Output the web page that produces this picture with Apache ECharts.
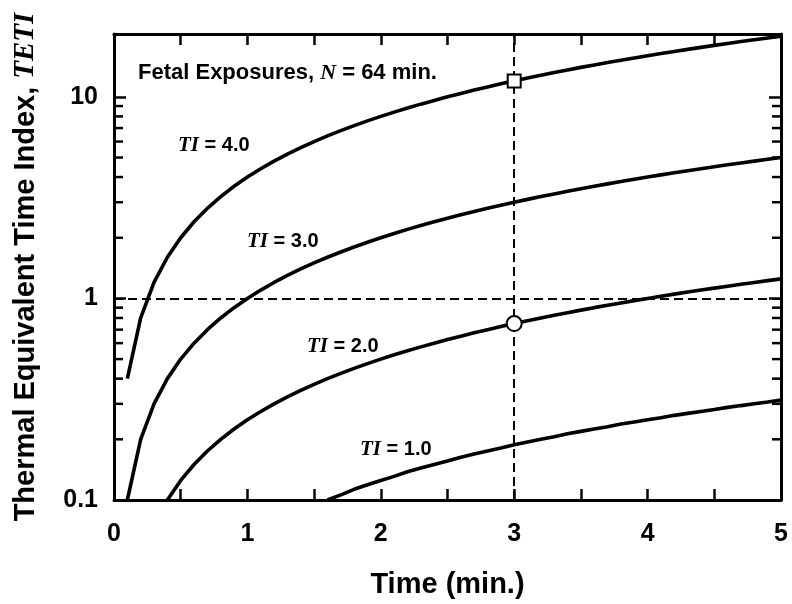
<!DOCTYPE html>
<html>
<head>
<meta charset="utf-8">
<script src="https://cdn.jsdelivr.net/npm/echarts@6/dist/echarts.min.js"></script>
<style>html,body{margin:0;padding:0;background:#fff}#c{width:792px;height:604px}</style>
</head>
<body>
<div id="c"></div>
<script>
// ---- data ----
const times = [0.1,0.2,0.3,0.4,0.5,0.6,0.7,0.8,0.9,1.0,1.1,1.2,1.3,1.4,1.5,1.6,1.7,1.8,1.9,2.0,2.1,2.2,2.3,2.4,2.5,2.6,2.7,2.8,2.9,3.0,3.1,3.2,3.3,3.4,3.5,3.6,3.7,3.8,3.9,4.0,4.1,4.2,4.3,4.4,4.5,4.6,4.7,4.8,4.9,5.0];
const teti_TI4 = [0.4,0.8,1.2,1.6,2.0,2.4,2.8,3.2,3.6,4.0,4.4,4.8,5.2,5.6,6.0,6.4,6.8,7.2,7.6,8.0,8.4,8.8,9.2,9.6,10.0,10.4,10.8,11.2,11.6,12.0,12.4,12.8,13.2,13.6,14.0,14.4,14.8,15.2,15.6,16.0,16.4,16.8,17.2,17.6,18.0,18.4,18.8,19.2,19.6,20.0];
const teti_TI3 = [0.1,0.2,0.3,0.4,0.5,0.6,0.7,0.8,0.9,1.0,1.1,1.2,1.3,1.4,1.5,1.6,1.7,1.8,1.9,2.0,2.1,2.2,2.3,2.4,2.5,2.6,2.7,2.8,2.9,3.0,3.1,3.2,3.3,3.4,3.5,3.6,3.7,3.8,3.9,4.0,4.1,4.2,4.3,4.4,4.5,4.6,4.7,4.8,4.9,5.0];
const teti_TI2 = [null,null,null,0.1,0.125,0.15,0.175,0.2,0.225,0.25,0.275,0.3,0.325,0.35,0.375,0.4,0.425,0.45,0.475,0.5,0.525,0.55,0.575,0.6,0.625,0.65,0.675,0.7,0.725,0.75,0.775,0.8,0.825,0.85,0.875,0.9,0.925,0.95,0.975,1.0,1.025,1.05,1.075,1.1,1.125,1.15,1.175,1.2,1.225,1.25];
const teti_TI1 = [null,null,null,null,null,null,null,null,null,null,null,null,null,null,null,0.1,0.106,0.113,0.119,0.125,0.131,0.138,0.144,0.15,0.156,0.163,0.169,0.175,0.181,0.188,0.194,0.2,0.206,0.213,0.219,0.225,0.231,0.238,0.244,0.25,0.256,0.263,0.269,0.275,0.281,0.288,0.294,0.3,0.306,0.313];
const squarePoint = [[3, 12]];
const circlePoint = [[3, 0.75]];
const refY = 1;
const refX = 3;
const minorTickValues = [0.2,0.3,0.4,0.5,0.6,0.7,0.8,0.9,2,3,4,5,6,7,8,9];
const curveLabels = ['4.0','3.0','2.0','1.0'];

const SANS = "'Liberation Sans', Arial, sans-serif";
const SERIF = "'Liberation Serif', 'Times New Roman', serif";
const pair = arr => times.map((t, i) => [t, arr[i]]);
const Y_MIN = 0.1, Y_MAX = 20.5;

const curve = (name, vals) => ({
  name, type: 'line', data: pair(vals), showSymbol: false, smooth: false,
  xAxisIndex: 0, yAxisIndex: 0, connectNulls: false,
  lineStyle: { color: '#000', width: 3.6 }, silent: true, z: 3
});

const chart = echarts.init(document.getElementById('c'), null, { renderer: 'canvas' });
const axisBase = () => ({
  axisLine: { show: true, onZero: false, lineStyle: { color: '#000', width: 3 } },
  splitLine: { show: false }
});
const richI = { i: { fontFamily: SERIF, fontStyle: 'italic', fontWeight: 'bold', fontSize: 22, color: '#000' } };
const tiRich = { i: Object.assign({}, richI.i, { fontSize: 21 }) };
const tiText = (v) => '{i|TI} = ' + v;

chart.setOption({
  animation: false,
  backgroundColor: '#fff',
  grid: { left: 114, right: 11, top: 34, bottom: 102 },
  xAxis: [
    Object.assign(axisBase(), {
      type: 'value', min: 0, max: 5, interval: 0.5, position: 'bottom',
      name: 'Time (min.)', nameLocation: 'middle', nameGap: 70,
      nameTextStyle: { fontFamily: SANS, fontWeight: 'bold', fontSize: 29, color: '#000' },
      axisTick: { show: true, inside: true, length: 11, lineStyle: { color: '#000', width: 2.5 } },
      axisLabel: { margin: 22, fontFamily: SANS, fontWeight: 'bold', fontSize: 25, color: '#000',
        formatter: v => (Math.abs(v - Math.round(v)) < 1e-9 ? String(Math.round(v)) : '') }
    }),
    Object.assign(axisBase(), {
      type: 'value', min: 0, max: 5, interval: 0.5, position: 'top',
      axisTick: { show: true, inside: true, length: 11, lineStyle: { color: '#000', width: 2.5 } },
      axisLabel: { show: false }
    })
  ],
  yAxis: [
    Object.assign(axisBase(), {
      type: 'log', logBase: 10, min: Y_MIN, max: Y_MAX, position: 'left',
      name: 'Thermal Equivalent Time Index, {i|TETI}', nameLocation: 'middle', nameGap: 74, nameRotate: 90,
      nameTextStyle: { fontFamily: SANS, fontWeight: 'bold', fontSize: 29, color: '#000',
        rich: { i: { fontFamily: SERIF, fontStyle: 'italic', fontWeight: 'bold', fontSize: 29, color: '#000' } } },
      axisTick: { show: true, inside: true, length: 12, lineStyle: { color: '#000', width: 2.5 } },
      axisLabel: { margin: 16, fontFamily: SANS, fontWeight: 'bold', fontSize: 25, color: '#000',
        showMaxLabel: false,
        formatter: v => { const l = Math.log10(v); return Math.abs(l - Math.round(l)) < 1e-6 ? String(+v.toPrecision(6)) : ''; } }
    }),
    Object.assign(axisBase(), {
      type: 'log', logBase: 10, min: Y_MIN, max: Y_MAX, position: 'right',
      axisTick: { show: true, inside: true, length: 12, lineStyle: { color: '#000', width: 2.5 } },
      axisLabel: { show: false }
    })
  ],
  series: [
    curve('TI=4.0', teti_TI4),
    curve('TI=3.0', teti_TI3),
    curve('TI=2.0', teti_TI2),
    curve('TI=1.0', teti_TI1),
    {
      type: 'line', data: [], xAxisIndex: 0, yAxisIndex: 0, silent: true,
      markLine: {
        silent: true, symbol: ['none', 'none'], animation: false, label: { show: false },
        lineStyle: { color: '#000', width: 2, type: [9, 5], opacity: 1 },
        emphasis: { disabled: true },
        data: [{ yAxis: refY }, { xAxis: refX }]
      }
    },
    {
      type: 'scatter', data: squarePoint, symbol: 'rect', symbolSize: 13, z: 5,
      itemStyle: { color: '#fff', borderColor: '#000', borderWidth: 2, opacity: 1 }, silent: true
    },
    {
      type: 'scatter', data: circlePoint, symbol: 'circle', symbolSize: 15, z: 5,
      itemStyle: { color: '#fff', borderColor: '#000', borderWidth: 2, opacity: 1 }, silent: true
    },
    {
      type: 'custom', xAxisIndex: 0, yAxisIndex: 0, silent: true, z: 4,
      data: minorTickValues.map(v => [0, v]),
      renderItem: (params, api) => {
        const v = api.value(1);
        const pL = api.coord([0, v]);
        const pR = api.coord([5, v]);
        return {
          type: 'group', children: [
            { type: 'line', shape: { x1: pL[0], y1: pL[1], x2: pL[0] + 9, y2: pL[1] }, style: { stroke: '#000', lineWidth: 2.5 } },
            { type: 'line', shape: { x1: pR[0], y1: pR[1], x2: pR[0] - 9, y2: pR[1] }, style: { stroke: '#000', lineWidth: 2.5 } }
          ]
        };
      }
    }
  ],
  graphic: [
    { type: 'text', left: 138, top: 62, style: { text: 'Fetal Exposures, {i|N} = 64 min.', fontFamily: SANS, fontWeight: 'bold', fontSize: 22, fill: '#000', rich: richI } },
    { type: 'text', left: 178, top: 135, style: { text: tiText(curveLabels[0]), fontFamily: SANS, fontWeight: 'bold', fontSize: 20, fill: '#000', rich: tiRich } },
    { type: 'text', left: 247, top: 231, style: { text: tiText(curveLabels[1]), fontFamily: SANS, fontWeight: 'bold', fontSize: 20, fill: '#000', rich: tiRich } },
    { type: 'text', left: 307, top: 336, style: { text: tiText(curveLabels[2]), fontFamily: SANS, fontWeight: 'bold', fontSize: 20, fill: '#000', rich: tiRich } },
    { type: 'text', left: 360, top: 439, style: { text: tiText(curveLabels[3]), fontFamily: SANS, fontWeight: 'bold', fontSize: 20, fill: '#000', rich: tiRich } }
  ]
});
</script>
</body>
</html>
